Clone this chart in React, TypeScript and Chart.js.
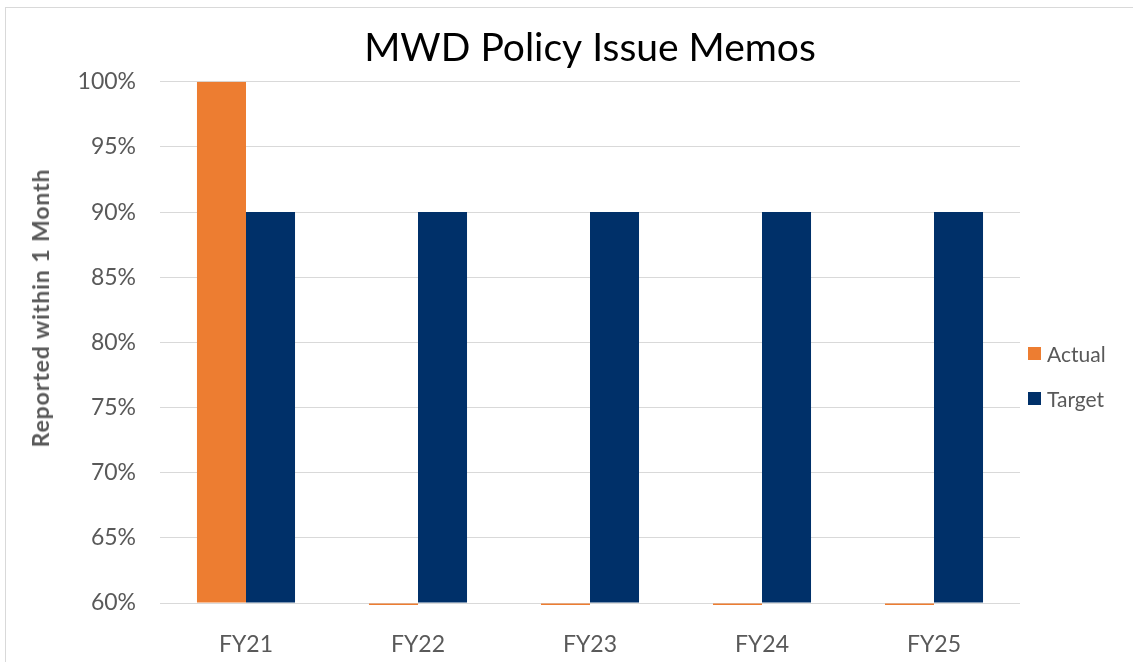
import React, { useEffect, useRef } from 'react';
import { Chart, registerables } from 'chart.js';

Chart.register(...registerables);

const titleText = 'MWD Policy Issue Memos';
const yAxisTitle = 'Reported within 1 Month';
const categories = ['FY21', 'FY22', 'FY23', 'FY24', 'FY25'];
const actualValues = [100, 0, 0, 0, 0];
const targetValues = [90, 90, 90, 90, 90];
const seriesNames = ['Actual', 'Target'];
const seriesColors = ['#ED7D31', '#003069'];
const yMin = 60;
const yMax = 100;
const yStep = 5;

const FONT = 'Lato, "Open Sans", sans-serif';
const TEXT = '#595959';

export default function App() {
  const ref = useRef<HTMLCanvasElement | null>(null);

  useEffect(() => {
    document.body.style.margin = '0';
    const canvas = ref.current;
    if (!canvas) return;
    const chart = new Chart(canvas, {
      type: 'bar',
      data: {
        labels: categories,
        datasets: [
          {
            label: seriesNames[0],
            data: actualValues,
            backgroundColor: seriesColors[0],
            borderWidth: 0,
            base: yMin,
            clip: { left: 0, top: 0, right: 0, bottom: 2 },
          } as any,
          {
            label: seriesNames[1],
            data: targetValues,
            backgroundColor: seriesColors[1],
            borderWidth: 0,
            base: yMin,
            clip: { left: 0, top: 0, right: 0, bottom: 2 },
          } as any,
        ],
      },
      options: {
        animation: false,
        responsive: false,
        maintainAspectRatio: false,
        layout: { padding: { left: 0, right: 113, top: 0, bottom: 0 } },
        datasets: { bar: { categoryPercentage: 0.57, barPercentage: 1 } },
        plugins: {
          legend: { display: false },
          tooltip: { enabled: false },
          title: {
            display: true,
            text: titleText,
            fullSize: false,
            color: '#000000',
            font: { family: FONT, size: 39, weight: 'normal' },
            padding: { top: 25, bottom: 10 },
          },
        },
        scales: {
          x: {
            grid: { display: false },
            border: { display: false },
            ticks: { color: TEXT, font: { family: FONT, size: 23 }, padding: 20 },
            afterFit: (s: any) => { s.height = 59; },
          },
          y: {
            min: yMin,
            max: yMax,
            ticks: {
              stepSize: yStep,
              color: TEXT,
              padding: 24,
              font: { family: FONT, size: 23 },
              callback: (v: any) => v + '%',
            },
            grid: { color: '#D9D9D9', lineWidth: 1, drawTicks: false },
            border: { display: false },
            title: { display: false },
            afterFit: (s: any) => { s.width = 160; },
          },
        },
      },
    });
    return () => chart.destroy();
  }, []);

  const legendItem = (i: number, top: number) => (
    <div key={i} style={{ position: 'absolute', left: 1028, top, height: 13, display: 'flex', alignItems: 'center' }}>
      <div style={{ width: 13, height: 13, background: seriesColors[i] }} />
      <span style={{ marginLeft: 6, fontFamily: FONT, fontSize: 21, color: TEXT, lineHeight: '13px' }}>{seriesNames[i]}</span>
    </div>
  );

  return (
    <div style={{ position: 'relative', width: 1133, height: 662, overflow: 'hidden', background: '#fff' }}>
      <div style={{ position: 'absolute', left: 5, top: 7, width: 1200, height: 700, border: '1px solid #D9D9D9', boxSizing: 'border-box' }} />
      <canvas ref={ref} width={1133} height={662} style={{ position: 'absolute', left: 0, top: 0, width: 1133, height: 662 }} />
      <div
        style={{
          position: 'absolute',
          left: 40,
          top: 308,
          transform: 'translate(-50%, -50%) rotate(-90deg)',
          whiteSpace: 'nowrap',
          fontFamily: FONT,
          fontWeight: 'bold',
          fontSize: 23,
          letterSpacing: '0.9px',
          color: TEXT,
          lineHeight: '28px',
        }}
      >
        {yAxisTitle}
      </div>
      {legendItem(0, 347)}
      {legendItem(1, 392)}
    </div>
  );
}
